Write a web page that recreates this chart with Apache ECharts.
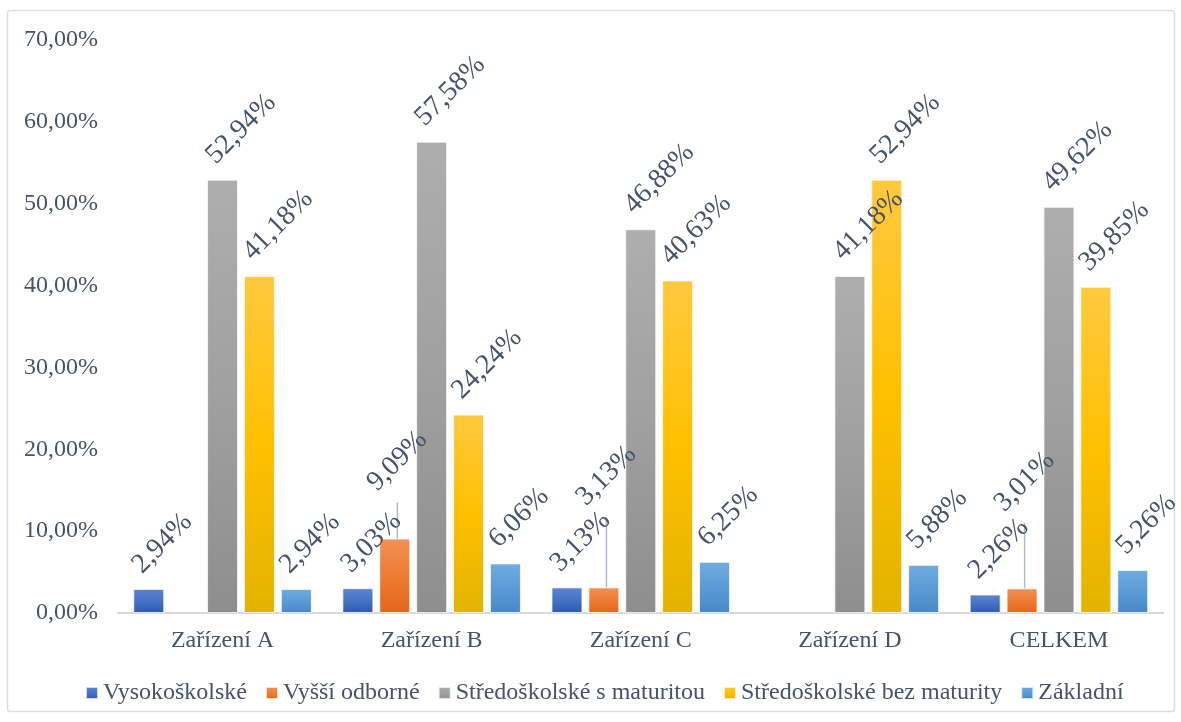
<!DOCTYPE html>
<html>
<head>
<meta charset="utf-8">
<title>Vzdělání podle zařízení</title>
<script src="https://cdn.jsdelivr.net/npm/echarts@6/dist/echarts.min.js"></script>
<style>
  html, body { margin: 0; padding: 0; background: #ffffff; }
  #chart { width: 1181px; height: 722px; }
</style>
</head>
<body>
<div id="chart"></div>
<script>
// Categories (facilities) and the share of each education level, in percent
const categories = ['Zařízení A', 'Zařízení B', 'Zařízení C', 'Zařízení D', 'CELKEM'];
const seriesNames = ['Vysokoškolské', 'Vyšší odborné', 'Středoškolské s maturitou', 'Středoškolské bez maturity', 'Základní'];
const vysokoskolske = [2.94, 3.03, 3.13, null, 2.26];
const vyssiOdborne = [null, 9.09, 3.13, null, 3.01];
const stredoskolskeSMaturitou = [52.94, 57.58, 46.88, 41.18, 49.62];
const stredoskolskeBezMaturity = [41.18, 24.24, 40.63, 52.94, 39.85];
const zakladni = [2.94, 6.06, 6.25, 5.88, 5.26];
const yMin = 0, yMax = 70, yStep = 10;

const FONT = "'Liberation Serif', 'Times New Roman', serif";
const TEXT = '#44546A';

// vertical gradient per series: light top, base, darker bottom
function grad(top, mid, bottom) {
  return new echarts.graphic.LinearGradient(0, 0, 0, 1, [
    { offset: 0, color: top },
    { offset: 0.5, color: mid },
    { offset: 1, color: bottom }
  ]);
}
const fills = [
  grad('#5F84D2', '#4472C4', '#2E5AB5'),
  grad('#F29058', '#ED7D31', '#E2661C'),
  grad('#AEAEAE', '#A0A0A0', '#8E8E8E'),
  grad('#FFC93F', '#FFC000', '#E2B300'),
  grad('#70ACE2', '#5B9BD5', '#4688C8')
];
const seriesData = [vysokoskolske, vyssiOdborne, stredoskolskeSMaturitou, stredoskolskeBezMaturity, zakladni];

const pct = v => Number(v).toFixed(2).replace('.', ',') + '%';

// extra lift for the "Vyšší odborné" labels, which sit higher on leader lines
const liftUp = [0, 33, 67, 0, 62];

const series = seriesData.map((data, i) => {
  const isOrange = i === 1;
  const label = {
    show: true,
    position: 'top',
    distance: 0,
    rotate: 45,
    align: 'left',
    verticalAlign: 'middle',
    formatter: p => pct(p.value),
    fontFamily: FONT,
    fontSize: 28,
    color: TEXT
  };
  if (isOrange) {
    // an invisible padded box keeps the leader line clear of the text
    label.padding = [0, 0, 16, 0];
    label.backgroundColor = 'rgba(255,255,255,0)';
  }
  return {
    name: seriesNames[i],
    type: 'bar',
    data: data,
    barWidth: 31,
    barGap: '19%',
    itemStyle: { color: fills[i], borderColor: 'rgba(255,255,255,0.75)', borderWidth: 1 },
    label: label,
    // rotated labels start just left of the bar centre, above its top
    labelLayout: p => {
      const cx = p.rect.x + p.rect.width / 2;
      const top = p.rect.y;
      if (isOrange) {
        return { x: cx - 23, y: top - 19 - liftUp[p.dataIndex], align: 'left', verticalAlign: 'middle', rotate: 45 };
      }
      return { x: cx - 12, y: top - 20, align: 'left', verticalAlign: 'middle', rotate: 45 };
    },
    labelLine: {
      show: isOrange,
      length2: 0,
      lineStyle: { color: '#AFBBCC', width: 1.5 }
    },
    emphasis: { disabled: true }
  };
});

const chart = echarts.init(document.getElementById('chart'), null, { renderer: 'canvas' });
chart.setOption({
  backgroundColor: '#ffffff',
  animation: false,
  textStyle: { fontFamily: FONT },
  graphic: [{
    type: 'rect',
    shape: { x: 7.5, y: 10.5, width: 1167, height: 701, r: 3 },
    style: { fill: 'none', stroke: '#DCE0E6', lineWidth: 1.5 },
    silent: true,
    z: -1
  }],
  grid: { left: 118, right: 17.5, top: 40, bottom: 109 },
  legend: {
    data: seriesNames,
    left: 80,
    top: 676,
    icon: 'rect',
    itemWidth: 12,
    itemHeight: 12,
    itemGap: 18,
    textStyle: { fontFamily: FONT, fontSize: 24, color: TEXT }
  },
  xAxis: {
    type: 'category',
    data: categories,
    axisLine: { lineStyle: { color: '#D9D9D9', width: 2 } },
    axisTick: { show: false },
    axisLabel: { fontFamily: FONT, fontSize: 24, color: TEXT, margin: 16 }
  },
  yAxis: {
    type: 'value',
    min: yMin,
    max: yMax,
    interval: yStep,
    axisLine: { show: false },
    axisTick: { show: false },
    splitLine: { show: false },
    axisLabel: { fontFamily: FONT, fontSize: 24, color: TEXT, margin: 20, formatter: v => pct(v) }
  },
  series: series
});
</script>
</body>
</html>
